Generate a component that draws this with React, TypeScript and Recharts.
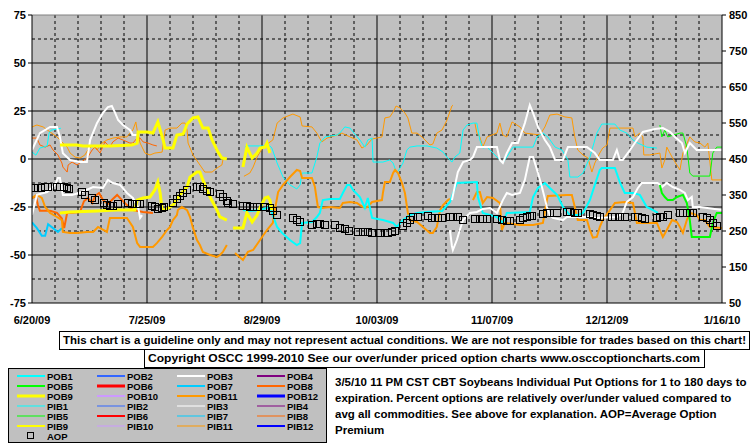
import React from 'react';
import { ComposedChart, Line, XAxis, YAxis, CartesianGrid, Scatter, ReferenceLine } from 'recharts';

type P = [number, number];

const dateLabels = ['6/20/09', '7/25/09', '8/29/09', '10/03/09', '11/07/09', '12/12/09', '1/16/10'];
const dateTicks = [0, 35, 70, 105, 140, 175, 210];
const leftTicks = [-75, -50, -25, 0, 25, 50, 75];
const rightTicks = [50, 150, 250, 350, 450, 550, 650, 750, 850];
const majorY = [-50, -25, 0, 25, 50];
const minorY = [-62.5, -37.5, -12.5, 12.5, 37.5, 62.5];

// POB3 (white)
const pob3A: P[] = [[0,4.7],[2.4,13.5],[5.5,16.7],[7.6,16.7],[8.5,11.5],[9.4,3],[11.6,-0.5],[14.6,-1.6],[16.7,-1.6],[17.7,10],[19.8,18.8],[21.6,24],[23.1,27],[24.3,27.6],[25.3,24],[26.2,20.3],[27.7,17.7],[29.8,15.1],[30.7,12.5],[32.3,12.5]];
const pob3B: P[] = [[0,-29],[1.5,-18.7],[4.6,-17.2],[7,-13.5],[7.9,-9.9],[8.5,-9.9],[9.4,-18.7],[12.2,-18.7],[15.2,-17.2],[18.6,-14.6],[21.6,-15.1],[23.1,-10.9],[24.6,-12.5],[26.8,-13.5],[28.9,-17.7],[30.7,-20.3],[32.3,-25],[32.9,-30.7],[33.5,-29.2]];
const pob3C: P[] = [[127.8,-21.4],[129.6,-6.8],[131.2,-1.6],[133.3,-0.5],[134.2,1],[135.4,6.2],[141.5,6.2],[142.4,-0.5],[143.3,-2.1],[144.5,3.1],[146.1,8.3],[147.9,8.3],[150,18.7],[151.5,28.1],[152.5,23.9],[154,16.7],[156.1,9.9],[157.6,6.2],[159.2,-0.5],[161.6,-0.5],[163.1,6.2],[168.9,6.2],[171.3,3.1],[172.8,-0.5],[176.8,-0.5],[178,4.7],[178.9,-0.5],[179.8,-0.5],[182,4.7],[184.1,9.9],[185.9,14.1],[189.6,15.6],[192,16.1],[194.2,14.1],[195.7,11.5],[197.8,8.3],[198.7,3.1],[200.2,8.3],[202.3,4.7],[205.4,4.7],[210,4.7]];
const pob3D: P[] = [[127.2,-37],[127.8,-45.3],[128.1,-47.4],[129.3,-42.2],[130.2,-37],[131.2,-31.8],[133.3,-28.1],[135.4,-27.6],[137.2,-26],[139.4,-25.5],[141.5,-28.1],[143.3,-21.4],[144.5,-17.7],[146.1,-18.7],[148.5,-17.7],[150,-10.9],[151.5,1],[152.5,1],[154,-7.3],[155.2,-14.6],[156.7,-25],[157.6,-29.2],[158.5,-30.7],[161.6,-31.8],[162.8,-30.2],[168.9,-30.2],[171.9,-30.7],[178,-30.2],[179.8,-28.1],[181,-22.4],[182.9,-19.8],[184.4,-15.1],[185.6,-12.5],[190.5,-12.5],[191.7,-14.6],[193.2,-12.5],[195,-14.6],[197.2,-16.1],[198.7,-17.7],[199.6,-21.4],[200.8,-19.8],[201.1,-25],[203.3,-25],[210,-26.6]];

// PIB1 / POB1 (cyan)
const pib1A: P[] = [[0,3.6],[1.2,2],[2.4,5.7],[4.6,6.8],[5.2,13.5],[5.8,15],[8.8,16]];
const pib1B: P[] = [[64.8,6.2],[65.4,6.8],[72.4,6.8],[73,5.7],[74.6,-2.1],[75.5,-5.7],[76.4,-9.4],[78.5,-13.5],[80.6,-15.6],[81.6,-13.5],[82.2,-7.3],[85.2,-7.3],[86.7,1],[87.6,8.3],[89.2,11.5],[92.8,12.5],[93.7,13.5],[95.2,16.7],[96.8,16.1],[97.7,14.1],[99.8,9.9],[101.3,6.2],[102.2,9.9],[103.5,10.9],[103.8,-1.6],[106.8,-1.6],[108.9,-0.5],[109.9,-2.1],[111,-7.3],[112,-4.7],[112.9,-2.1],[114.1,4.7],[115,6.2],[117.2,6.8],[120.2,6.8],[123.2,5.7],[125.1,3.6],[126.3,1],[127.8,-1.6],[128.7,1],[130.2,3.1],[131.2,15.1],[132.4,17.7],[134.2,18.7],[135.4,18.7],[136.3,9.9],[137.2,5.7],[138.5,6.2],[140,3.6],[141.5,1],[143.3,-2.1],[144.5,1],[146.4,6.2],[152.5,6.2],[153.7,11.5],[155.5,13.5],[157,11.5],[159.2,6.2],[161.3,4.7],[163.1,-0.5],[163.7,-9.4],[166.1,-9.4],[167.7,-7.3],[169.8,1],[171.9,13.5],[173.4,18.2],[177.4,18.2],[178.9,15.1],[181,13.5],[182.9,9.9],[184.4,8.3],[187.1,6.2],[190.2,5.7]];
const pob1: P[] = [[64.2,-26.6],[66.3,-27.1],[69.4,-26.6],[72.4,-25],[74.6,-35.4],[76.1,-38.5],[78.5,-42.2],[80.6,-44.8],[81.6,-43.8],[82.2,-33.3],[85.2,-32.8],[86.7,-30.2],[87.6,-28.1],[88.5,-21.4],[90.7,-20.8],[93.7,-20.8],[94.6,-17.7],[95.9,-13.5],[96.8,-13.5],[97.7,-16.1],[99.8,-19.8],[101.3,-25.5],[102.2,-20.3],[103.5,-30.7],[106.8,-31.8],[109.9,-33.3],[111,-35.4],[112.9,-31.8],[115,-29.2],[117.2,-28.1],[120.2,-27.6],[124.8,-27.1],[127.2,-22.4],[129.3,-12.5],[135.4,-12],[135.7,-19.8],[137.2,-28.1],[139.4,-29.2],[141.5,-30.2],[143.3,-33.3],[144.5,-28.1],[151.5,-27.6],[152.5,-19.8],[154,-15.1],[156.1,-12.5],[157.6,-15.1],[159.8,-18.7],[161.6,-25],[163.7,-29.2],[166.1,-29.2],[167.7,-28.1],[169.8,-21.4],[171.3,-13.5],[172.8,-5.7],[173.4,-4.7],[177.4,-4.7],[178.9,-12],[180.4,-17.7],[182.9,-17.7],[185,-18.7],[187.1,-25],[189,-26.6],[190.5,-28.1]];

// POB7 (deep sky blue)
const pob7: P[] = [[0,-33],[1.5,-36],[3,-40],[4,-40],[4.9,-34],[6.4,-36],[7.9,-38],[9.1,-36]];

// PIB11 / POB11 (orange)
const pib11A: P[] = [[0,16.7],[1.5,17.7],[3.4,16.7],[5.5,14.1],[7.6,11.5],[9.1,8.9],[10.7,6.2],[11.6,3.1],[13.1,1],[14.6,0.5],[16.1,2.1],[17,4.7],[18.6,7.3],[19.8,4.7],[21.3,8.3],[22.8,9.9],[24.6,10.9],[26.8,11.5],[28.9,11.5],[29.8,13.5],[30.7,15.1],[31.6,19.3],[32,15.1],[32.9,8.3],[34.4,3.1],[35.9,2.1],[37.4,3.1],[39.6,3.6],[40.5,15.1],[42,16.1],[44.1,16.1],[45.6,18.7],[46.6,18.7],[47.2,15.1],[47.5,8.3],[49,2.1],[51.1,-3.1],[52.6,-6.8],[54.8,-6.8],[56.3,-4.7],[57.8,-3.1],[58.1,-0.5]];
const pib11B: P[] = [[64.5,-9],[66.3,-7.3],[67.3,-4.2],[68.5,1],[70.3,6.2],[73.3,9.9],[74.6,18.7],[76.4,21.4],[79.4,23.4],[81.6,21.9],[82.2,17.2],[85.2,16.7],[86.7,13.5],[88.2,8.9],[89.8,10.9],[92.8,12.5],[94.3,13.5],[96.8,11.5],[98.9,9.9],[100.4,5.7],[101.9,7.3],[103.5,10.4],[106.5,11.5],[107.4,21.4],[108.9,21.9],[109.9,24.5],[110.8,27.6],[112,26.6],[113.5,24],[114.4,21.4],[115.6,13.5],[117.2,13.5],[118.7,11.5],[121.1,7.3],[122,7.8],[123.2,13.5],[124.8,15.1],[126.3,20.3],[127.8,27.6],[128.1,28.1]];
const pib11C: P[] = [[134.8,18.7],[135.4,13.5],[136.3,11.5],[137.2,6.2],[138.5,11.5],[141.5,13.5],[142.4,18.7],[143.3,12.5],[144.5,11.5],[146.1,19.3],[148.5,16.7],[150,13.5],[154.6,12.5],[156.1,16.7],[157.6,22.9],[159.8,23.4],[162.2,21.9],[164.3,21.4],[165.2,11.5],[166.1,4.7],[167.7,2.1],[169.2,0.5],[170.4,-6.8],[171.3,-2.1],[172.8,3.1],[173.7,5.7],[175,7.3],[175.9,16.1],[182.9,16.1],[183.5,11.5],[185,13.5],[185.9,11.5],[186.2,2.1],[188,2.1],[191.1,3.1],[191.7,-4.7],[192.6,-0.5],[193.2,6.2],[194.8,1],[195.7,-1.6],[197.2,-5.7],[198.1,3.1],[200.2,11.5],[201.7,8.9],[203.3,8.3],[204.8,6.2],[205.7,8.3],[206.9,-10.9],[210,-10.9]];
const pob11A: P[] = [[0,-20.3],[1.5,-18.7],[3,-20.3],[4,-25],[5.5,-28.1],[7.6,-30.2],[9.1,-31.8],[9.4,-38],[11.6,-38.5],[13.7,-38.5],[16.7,-38],[18.6,-38],[20.1,-35.4],[22.8,-38],[23.7,-30.7],[28.9,-30.7],[30.7,-35.4],[32,-43.8],[32.9,-45.8],[36.8,-45.8],[38,-43.8],[39.6,-40.6],[41.1,-37],[42,-35.4],[42.9,-31.8],[44.1,-29.2],[44.4,-26.6],[45.6,-25],[47.2,-26.6],[48.1,-30.2],[49,-35.9],[50.2,-42.2],[51.1,-44.8],[52,-48.4],[54.2,-50],[56.3,-51],[57.2,-50],[58.1,-48.4],[59.3,-44.8]];
const pob11B: P[] = [[61.8,-49],[64.2,-52.6],[65.7,-48.4],[67.3,-47.4],[69.4,-42.2],[71.5,-37],[73.3,-33.3],[73.9,-26.6],[74.9,-17.2],[76.4,-13.5],[78.5,-9.4],[80.6,-5.7],[81.6,-6.3],[82.2,-9.9],[85.2,-9.9],[86.1,-14.6],[87,-25],[88.2,-25.5],[90.7,-25],[93.7,-25.5],[94.6,-22.9],[96.8,-22.4],[98.9,-22.9],[99.8,-24],[101.3,-25.5],[102.2,-25],[103.5,-22.4],[106.5,-21.4],[106.8,-17.7],[107.4,-12],[108.9,-12],[109.9,-7.3],[110.5,-5.7],[111.4,-7.3],[112.6,-12.5],[113.5,-17.7],[114.4,-28.1],[115,-31.8],[117.2,-32.8],[119,-35.4],[121.1,-38.5],[122,-38.5],[123.2,-35.4],[124.2,-26.6],[125.1,-24],[126.6,-21.4],[127.2,-20.8]];
const pob11C: P[] = [[134.2,-21.4],[135.4,-17.2],[136.3,-17.2],[137.2,-22.9],[138.5,-19.8],[140.3,-20.3],[142.4,-22.9],[143,-37],[143.9,-33.3],[148.5,-34.4],[152.5,-34.4],[155.5,-33.3],[156.7,-21.4],[157,-19.3],[162.8,-18.7],[164.3,-18.7],[165.2,-25],[166.1,-31.8],[168.9,-31.8],[169.8,-37],[170.7,-41],[171.9,-40.6],[172.8,-35.4],[173.7,-31.8],[175.9,-26.6],[177.4,-22.9],[180.4,-22.4],[182.9,-22.9],[183.5,-28],[184.1,-33.3],[190.2,-33.3],[191.1,-37],[192,-40.6],[193.2,-37],[194.8,-31.8],[196.3,-32.8],[197.2,-35.4],[198.1,-38.5],[199.3,-31.8],[200.2,-28],[202.3,-29.2],[203.3,-31.8],[204.8,-31.8],[206.3,-35.4],[210,-35.9]];

// PIB8 / POB8 (orange-red)
const pib8: P[] = [[0,10.9],[1.5,10.9],[2.4,7.3],[4,6.2],[5.5,7.3],[6.4,4.7],[7.9,2.1],[9.1,-2.1],[9.4,-4.2],[10.7,-6.8],[11,-3.1],[12.2,-1.6],[13.7,-3.1],[15.5,-1],[17,1],[18.3,4.7],[19.2,6.2],[20.7,3.1],[22.2,8.9],[23.7,6.2],[24.6,8.9],[26.2,10.9],[27.7,9.9],[29.8,8.3],[30.7,8.3],[32,10.9],[32.9,10.9],[33.8,8.9],[35.3,8.3],[36.8,7.3],[38,6.8]];
const pob8: P[] = [[0,-20.3],[1.2,-19.3],[1.8,-24],[2.4,-27],[5.5,-27],[7.6,-28],[9.1,-31],[9.8,-36],[10.7,-28],[12.2,-28],[14.6,-27.6],[15.8,-22],[17,-20.3],[18.3,-23],[19.2,-19.3],[20.4,-17.7],[21.6,-21.4],[23.1,-23.4],[24.6,-20.8],[25.9,-18.7],[27.4,-21.4],[28.9,-24],[30.7,-26.6],[33.8,-27.6],[36.8,-28.1]];

// POB9 (yellow)
const pob9A: P[] = [[8.5,7.3],[13.7,7.3],[15.5,6.8],[23.7,6.8],[30.4,7.3],[32,8.3],[32.3,14.1],[35,14.1],[36.8,13.5],[38.3,19.3],[39.9,9.9],[40.5,5.7],[42.9,5.7],[44.1,12.5],[46,13],[47.2,18.2],[49,21.4],[50.5,21.9],[52,16.1],[53.6,16.1],[54.8,9.9],[56.6,3.6],[57.8,0.5],[59.3,0]];
const pob9B: P[] = [[64.2,-4.2],[65.4,6.2],[67,0.5],[68.5,3.1],[69.4,5.7],[70.9,6.2],[71.5,8.3],[72.4,3.1]];
const pob9C: P[] = [[8.5,-28.1],[11.6,-27.6],[19.8,-27.1],[25.9,-26.6],[31.3,-26.6],[32,-21.4],[33.8,-20.3],[35.9,-19.8],[37.4,-16.1],[38.3,-12],[39,-17.7],[39.6,-26.6],[40.5,-26.6],[42.9,-24],[45,-18.7],[47.2,-14.6],[48.1,-9.4],[50.2,-6.8],[51.1,-6.8],[52,-10.9],[54.2,-19.8],[56.3,-26.6],[57.2,-30.2],[59.3,-31.8]];
const pob9D: P[] = [[61.2,-35.9],[64.2,-35.9],[65.4,-28.1],[67,-32.8],[68.5,-29.2],[69.4,-25.5],[70.9,-20.3],[71.8,-19.8],[72.4,-21.4],[73,-26.6]];

// PIB5 / POB5 (green)
const pib5: P[] = [[191.1,17.7],[191.7,11.5],[192.6,15.1],[193.5,11.5],[197.2,13.5],[198.1,13.5],[199.3,6.2],[200.2,-7.3],[201.1,-8.9],[206.3,-8.9],[207.2,3.1],[208.4,6.2],[210,6.2]];
const pob5: P[] = [[191.1,-13.5],[191.7,-17.7],[192.6,-19.8],[193.5,-21.4],[195,-21.4],[196.3,-19.8],[198.1,-18.7],[199.3,-22.9],[200.2,-31.8],[200.8,-40.6],[206.3,-40.6],[207.2,-33.3],[208.4,-28.1],[210,-28.1]];

// AOP (right axis)
const aop: P[] = [[0.9,369],[1.8,369],[2.7,369],[4,372],[4.9,372],[7.6,372],[8.5,372],[9.7,372],[10.7,369],[11.3,367],[15.2,358],[16.1,350],[18.3,342],[19.2,336],[21.9,328],[22.8,322],[23.7,319],[24.6,319],[26.2,325],[29.2,328],[30.4,325],[32,325],[32.9,325],[36.5,319],[37.4,317],[38.3,311],[39.6,314],[40.2,317],[42.9,328],[44.1,339],[45,347],[46,356],[47.2,364],[50.2,372],[51.1,372],[52,367],[53.3,361],[54.2,358],[57.2,353],[58.1,344],[59.3,333],[59.6,328],[61.2,325],[64.2,319],[65.4,319],[66.3,317],[67.3,317],[68.5,317],[70.9,317],[72.4,314],[73.3,306],[74.6,294],[79.4,286],[80.6,281],[81.6,275],[85.2,267],[86.7,269],[87.6,269],[89.2,267],[92.2,267],[93.7,258],[95.2,256],[96.5,250],[99.2,247],[100.7,247],[102.2,247],[103.5,244],[105.9,244],[107.4,244],[108.3,244],[109.5,247],[110.5,250],[112.9,264],[114.1,272],[115,281],[115.9,289],[117.5,289],[120.5,292],[121.7,286],[122.6,286],[123.5,286],[124.8,286],[127.2,289],[128.1,289],[129.6,289],[131.2,281],[134.8,283],[136.3,283],[137.2,283],[138.5,283],[141.5,283],[143,281],[144.5,278],[145.5,278],[148.5,281],[149.4,286],[150.6,289],[151.5,292],[152.1,292],[155.5,297],[156.7,300],[157.6,300],[159.8,300],[162.8,303],[163.7,303],[165.2,300],[166.1,300],[169.8,297],[170.7,294],[171.9,292],[172.8,289],[176.5,289],[177.4,289],[178.9,289],[180.4,289],[183.5,289],[184.4,289],[185.6,286],[186.5,283],[190.2,286],[191.1,289],[192,289],[193.5,294],[197.2,300],[198.1,300],[199.3,300],[200.2,300],[201.1,300],[204.2,289],[205.4,286],[206.3,281],[207.2,272],[208.4,264]];

const legendNames = [
  ['POB1', 'POB2', 'POB3', 'POB4'],
  ['POB5', 'POB6', 'POB7', 'POB8'],
  ['POB9', 'POB10', 'POB11', 'POB12'],
  ['PIB1', 'PIB2', 'PIB3', 'PIB4'],
  ['PIB5', 'PIB6', 'PIB7', 'PIB8'],
  ['PIB9', 'PIB10', 'PIB11', 'PIB12'],
];
const legendColors = [
  ['#00FFFF', '#3366FF', '#FFFFFF', '#800080'],
  ['#00FF00', '#FF0000', '#00CCFF', '#FF6600'],
  ['#FFFF00', '#CC99FF', '#FF9900', '#0000FF'],
];
const legendWidths = [
  [2, 2, 2, 2],
  [2, 3, 2, 2],
  [3, 2, 2, 3],
];

const noteLines = [
  '3/5/10 11 PM CST CBT Soybeans Individual Put Options for 1 to 180 days to',
  'expiration. Percent options are relatively over/under valued compared to',
  'avg all commodities. See above for explanation. AOP=Average Option',
  'Premium',
];
const disclaimer = 'This chart is a guideline only and may not represent actual conditions. We are not responsible for trades based on this chart!';
const copyright = 'Copyright OSCC 1999-2010 See our over/under priced option charts www.osccoptioncharts.com';

const toRows = (pts: P[]) => pts.map(([x, v]) => ({ x, v }));

const series: { d: P[]; c: string; w: number }[] = [
  { d: pib11A, c: '#FF9900', w: 1 },
  { d: pib11B, c: '#FF9900', w: 1 },
  { d: pib11C, c: '#FF9900', w: 1 },
  { d: pib8, c: '#FF6600', w: 1 },
  { d: pib1A, c: '#00FFFF', w: 1 },
  { d: pib1B, c: '#00FFFF', w: 1 },
  { d: pib5, c: '#00FF00', w: 1 },
  { d: pob7, c: '#00CCFF', w: 2 },
  { d: pob8, c: '#FF6600', w: 2 },
  { d: pob11A, c: '#FF9900', w: 2 },
  { d: pob11B, c: '#FF9900', w: 2 },
  { d: pob11C, c: '#FF9900', w: 2 },
  { d: pob1, c: '#00FFFF', w: 2 },
  { d: pob3A, c: '#FFFFFF', w: 2 },
  { d: pob3B, c: '#FFFFFF', w: 2 },
  { d: pob3C, c: '#FFFFFF', w: 2 },
  { d: pob3D, c: '#FFFFFF', w: 2 },
  { d: pob9A, c: '#FFFF00', w: 3 },
  { d: pob9B, c: '#FFFF00', w: 3 },
  { d: pob9C, c: '#FFFF00', w: 3 },
  { d: pob9D, c: '#FFFF00', w: 3 },
  { d: pob5, c: '#00FF00', w: 2 },
];

const minorX: number[] = [];
for (let d = 7; d < 210; d += 7) if (d % 35 !== 0) minorX.push(d);
const majorX = [35, 70, 105, 140, 175];

const FONT = "'Liberation Sans', Arial, sans-serif";
const tickStyle = { fill: '#000', fontSize: 11, fontWeight: 'bold', fontFamily: FONT } as any;

const Square = (props: any) => {
  const { cx, cy } = props;
  if (cx == null || cy == null) return null;
  return <rect x={Math.round(cx) - 3.5} y={Math.round(cy) - 3.5} width={7} height={7} fill="none" stroke="#000" strokeWidth={1} />;
};

export default function App() {
  return (
    <div style={{ position: 'absolute', left: 0, top: 0, width: 755, height: 446, background: '#fff', overflow: 'hidden' }}>
      <ComposedChart width={755} height={330} margin={{ top: 15, right: 0, bottom: 0, left: 0 }}>
        <CartesianGrid yAxisId="left" fill="#C0C0C0" stroke="#000" strokeDasharray="3 3" horizontalValues={minorY} verticalValues={minorX} syncWithTicks={false} />
        <CartesianGrid yAxisId="left" stroke="#000" horizontalValues={majorY} verticalValues={majorX} syncWithTicks={false} />
        <XAxis type="number" dataKey="x" domain={[0, 210]} ticks={dateTicks} interval={0} allowDataOverflow
          tickFormatter={(d: number) => dateLabels[dateTicks.indexOf(d)] ?? ''}
          tickLine={false} tickMargin={7} height={27} stroke="#000" tick={tickStyle} />
        <YAxis yAxisId="left" dataKey="v" domain={[-75, 75]} ticks={leftTicks} interval={0} allowDataOverflow width={32}
          tickSize={4} tickMargin={2} stroke="#000" tick={tickStyle} />
        <YAxis yAxisId="right" dataKey="v" orientation="right" domain={[50, 850]} ticks={rightTicks} interval={0} allowDataOverflow width={33}
          tickSize={4} tickMargin={3} stroke="#000" tick={tickStyle} />
        <ReferenceLine yAxisId="left" y={75} stroke="#808080" />
        {series.map((s, i) => (
          <Line key={i} yAxisId="left" data={toRows(s.d)} dataKey="v" type="linear" stroke={s.c} strokeWidth={s.w}
            dot={false} activeDot={false} isAnimationActive={false} />
        ))}
        <Scatter yAxisId="right" data={toRows(aop)} dataKey="v" shape={Square} isAnimationActive={false} />
      </ComposedChart>
      <svg width={755} height={446} style={{ position: 'absolute', left: 0, top: 0, pointerEvents: 'none' }}
        fontFamily={FONT} fontWeight="bold">
        <rect x={59.5} y={331.5} width={690} height={18} fill="#fff" stroke="#000" />
        <text x={63} y={344} fontSize={11} textLength={683} lengthAdjust="spacingAndGlyphs">{disclaimer}</text>
        <rect x={144.5} y={349.5} width={560} height={18} fill="#fff" stroke="#000" />
        <text x={148} y={362} fontSize={11} textLength={552} lengthAdjust="spacingAndGlyphs">{copyright}</text>
        <rect x={8.5} y={368.5} width={318} height={74} fill="#C0C0C0" stroke="#000" />
        {legendNames.map((row, r) => row.map((name, c) => {
          const y = 376 + r * 10;
          const x0 = 17 + c * 80;
          const color = legendColors[r % 3][c];
          const w = r < 3 ? legendWidths[r][c] : Math.max(1, legendWidths[r % 3][c] - 1);
          return (
            <g key={name}>
              <line x1={x0} x2={x0 + 28} y1={y} y2={y} stroke={color} strokeWidth={w} />
              <text x={x0 + 30} y={y + 3.5} fontSize={9.5}>{name}</text>
            </g>
          );
        }))}
        <rect x={27.5} y={432.5} width={6} height={6} fill="none" stroke="#000" />
        <text x={47} y={439.5} fontSize={9.5}>AOP</text>
        {noteLines.map((t, i) => (
          <text key={i} x={335} y={386 + i * 16} fontSize={11.5}>{t}</text>
        ))}
      </svg>
    </div>
  );
}
